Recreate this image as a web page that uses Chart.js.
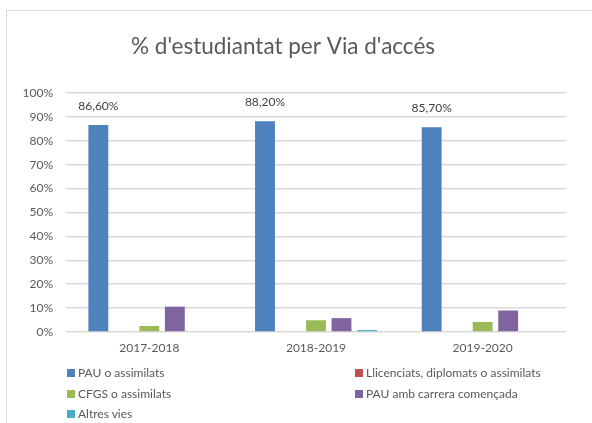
<!DOCTYPE html>
<html>
<head>
<meta charset="utf-8">
<script src="https://cdn.jsdelivr.net/npm/chart.js@4"></script>
<style>
  html,body{margin:0;padding:0;background:#fff;}
  body{width:592px;height:423px;position:relative;overflow:hidden;font-family:Lato,"Open Sans",sans-serif;}
  #frame{position:absolute;left:6px;top:10px;right:-2px;bottom:-2px;border-left:1px solid #d9d9d9;border-top:1px solid #d9d9d9;}
  #wrap{position:absolute;left:0;top:0;width:592px;height:423px;}
  #legend{position:absolute;left:67px;top:365px;width:520px;font-size:12px;color:#595959;}
  .item{position:absolute;white-space:nowrap;line-height:16px;}
  .item i{display:inline-block;width:8px;height:8px;margin-right:3px;vertical-align:-0px;}
</style>
</head>
<body>
<div id="frame"></div>
<div id="wrap"><canvas id="c" width="592" height="423"></canvas></div>
<div id="legend"></div>
<script>
const years=['2017-2018','2018-2019','2019-2020'];
const seriesNames=['PAU o assimilats','Llicenciats, diplomats o assimilats','CFGS o assimilats','PAU amb carrera començada','Altres vies'];
const pau=[86.6,88.2,85.7];
const llicenciats=[0,0,0];
const cfgs=[2.5,4.9,4.2];
const pauCarrera=[10.6,5.8,9.0];
const altres=[0,0.8,0];
const pauLabels=['86,60%','88,20%','85,70%'];
const colors=['#4f81bd','#c0504d','#9bbb59','#8064a2','#4bacc6'];

const values=[pau,llicenciats,cfgs,pauCarrera,altres];

const labelPlugin={
  id:'pauLabels',
  afterDatasetsDraw(chart){
    const ctx=chart.ctx;
    const meta=chart.getDatasetMeta(0);
    ctx.save();
    ctx.font='12px Lato, "Open Sans", sans-serif';
    ctx.fillStyle='#404040';
    ctx.textAlign='center';
    ctx.textBaseline='middle';
    meta.data.forEach((bar,i)=>{
      ctx.fillText(pauLabels[i],bar.x,bar.y-19);
    });
    ctx.restore();
  }
};

new Chart(document.getElementById('c'),{
  type:'bar',
  data:{
    labels:years,
    datasets:seriesNames.map((n,i)=>({
      label:n,
      data:values[i],
      backgroundColor:colors[i],
      borderWidth:0,
      barPercentage:0.78,
      categoryPercentage:0.765
    }))
  },
  options:{
    responsive:false,
    animation:false,
    layout:{padding:{left:0,right:26,top:0,bottom:61}},
    plugins:{
      legend:{display:false},
      tooltip:{enabled:false},
      title:{
        display:true,
        text:"% d'estudiantat per Via d'accés",
        color:'#595959',
        font:{family:'Lato, "Open Sans", sans-serif',size:22.5,weight:'normal'},
        padding:{top:33.5,bottom:32.5}
      }
    },
    scales:{
      x:{
        afterFit(s){s.height=30;},
        grid:{display:false},
        border:{display:false},
        ticks:{color:'#595959',font:{family:'Lato, "Open Sans", sans-serif',size:12},padding:1}
      },
      y:{
        min:0,max:100,
        afterFit(s){s.width=66;},
        grid:{color:'#d9d9d9',lineWidth:1.5,drawTicks:false},
        border:{display:false},
        ticks:{stepSize:10,color:'#595959',font:{family:'Lato, "Open Sans", sans-serif',size:12},padding:13,
          callback:v=>v+'%'}
      }
    }
  },
  plugins:[labelPlugin]
});

const legendEl=document.getElementById('legend');
seriesNames.forEach((n,i)=>{
  const el=document.createElement('div');
  el.className='item';
  el.style.left=(i%2?288:0)+'px';
  el.style.top=(Math.floor(i/2)*20.5)+'px';
  el.innerHTML=`<i style="background:${colors[i]}"></i>${n}`;
  legendEl.appendChild(el);
});
</script>
</body>
</html>
